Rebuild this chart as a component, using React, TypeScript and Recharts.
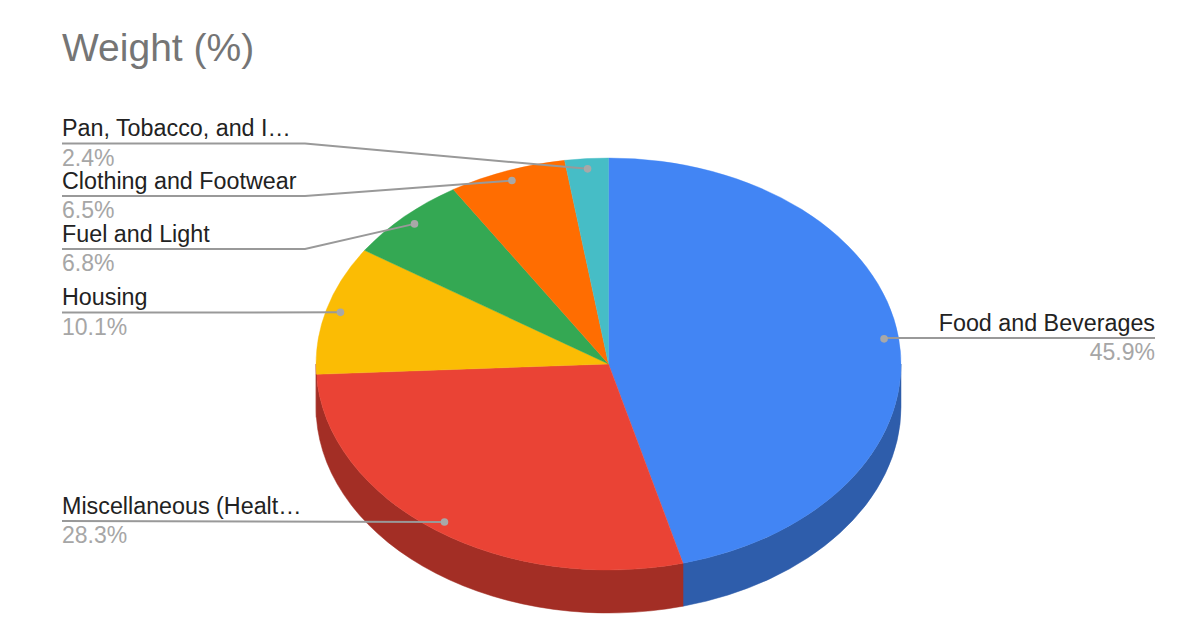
import React from "react";
import { PieChart, Pie } from "recharts";

const categories = [
  "Food and Beverages",
  "Miscellaneous (Healt…",
  "Housing",
  "Fuel and Light",
  "Clothing and Footwear",
  "Pan, Tobacco, and I…",
];
const weights = [45.9, 28.3, 10.1, 6.8, 6.5, 2.4];
const topColors = ["#4285F4", "#EA4335", "#FBBC04", "#34A853", "#FF6D01", "#46BDC6"];
const sideColors = ["#2E5DAB", "#A32E25", "#A32E25", "#24763A", "#B24C01", "#31848A"];
const rows = categories.map((name, i) => ({ name, value: weights[i] }));

const W = 1200;
const H = 630;
const CX = 608.5;
const CY = 364;
const RX = 292.5;
const RY = 206;
const DEPTH = 43;
const FONT = '"Liberation Sans", Arial, sans-serif';
const LINE_Y = [338, 521, 312.5, 249, 196, 143.5];
const LEFT_X = 62;
const RIGHT_X = 1155;
const ELBOW_X = 305;

const pt = (cx: number, cy: number, deg: number, k = 1) => {
  const a = (deg * Math.PI) / 180;
  return [cx + RX * k * Math.cos(a), cy - RY * k * Math.sin(a)];
};

function Slice3D(props: any) {
  const { cx, cy, startAngle, endAngle, index } = props;
  const [sx, sy] = pt(cx, cy, startAngle);
  const [ex, ey] = pt(cx, cy, endAngle);
  const large = startAngle - endAngle > 180 ? 1 : 0;
  const top = `M${cx},${cy} L${sx},${sy} A${RX},${RY} 0 ${large} 1 ${ex},${ey} Z`;
  const a1 = Math.min(startAngle, 0);
  const a2 = Math.max(endAngle, -180);
  let wall = null;
  if (a1 > a2) {
    const [x1, y1] = pt(cx, cy, a1);
    const [x2, y2] = pt(cx, cy, a2);
    const d = `M${x1},${y1} A${RX},${RY} 0 0 1 ${x2},${y2} L${x2},${y2 + DEPTH} A${RX},${RY} 0 0 0 ${x1},${y1 + DEPTH} Z`;
    wall = <path d={d} fill={sideColors[index]} stroke={sideColors[index]} strokeWidth={0.5} />;
  }
  return (
    <g>
      {wall}
      <path d={top} fill={topColors[index]} stroke={topColors[index]} strokeWidth={0.4} />
    </g>
  );
}

function Callout(props: any) {
  const { cx, cy, midAngle, index, name, value } = props;
  const [dx, dy] = pt(cx, cy, midAngle, 0.95);
  const y = LINE_Y[index];
  const right = index === 0;
  const endX = right ? RIGHT_X : LEFT_X;
  const points = right
    ? `${endX},${y} ${dx},${y}`
    : Math.abs(dy - y) < 1.5
      ? `${endX},${y} ${dx},${dy}`
      : `${endX},${y} ${ELBOW_X},${y} ${dx},${dy}`;
  const anchor = right ? "end" : "start";
  return (
    <g>
      <polyline points={points} fill="none" stroke="#999999" strokeWidth={2} />
      <circle cx={dx} cy={dy} r={3.8} fill="#a8a8a8" />
      <text x={endX} y={y - 7.5} textAnchor={anchor} fontFamily={FONT} fontSize={23.3} fill="#222222">
        {name}
      </text>
      <text x={endX} y={y + 22} textAnchor={anchor} fontFamily={FONT} fontSize={23} fill="#a6a6a6">
        {`${value}%`}
      </text>
    </g>
  );
}

export default function App() {
  return (
    <div style={{ position: "absolute", left: 0, top: 0, width: W, height: H, background: "#fff" }}>
      <div
        style={{
          position: "absolute",
          left: 62,
          top: 25,
          fontFamily: FONT,
          fontSize: 39,
          lineHeight: "46px",
          color: "#757575",
        }}
      >
        Weight (%)
      </div>
      <PieChart width={W} height={H} margin={{ top: 0, right: 0, bottom: 0, left: 0 }}>
        <Pie
          data={rows}
          dataKey="value"
          nameKey="name"
          cx={CX}
          cy={CY}
          innerRadius={0}
          outerRadius={RX}
          startAngle={90}
          endAngle={-270}
          paddingAngle={0}
          stroke="none"
          isAnimationActive={false}
          shape={Slice3D}
          label={Callout}
          labelLine={false}
        />
      </PieChart>
    </div>
  );
}
